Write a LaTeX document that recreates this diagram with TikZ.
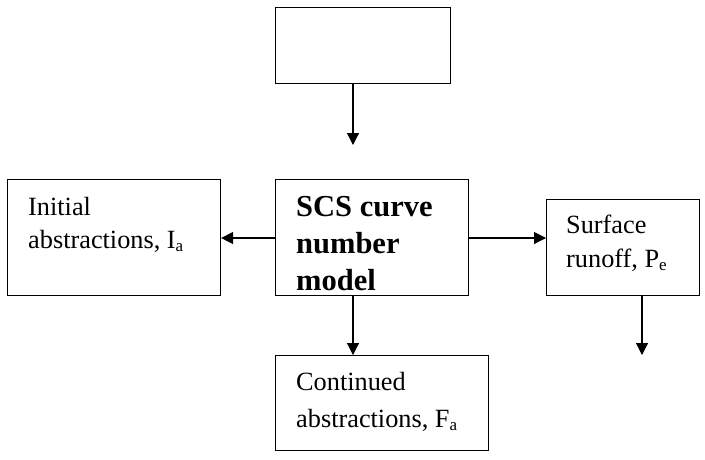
\documentclass[tikz,border=0pt]{standalone}
\usepackage{fontspec}
\setmainfont{Liberation Serif}
\usetikzlibrary{arrows.meta}
\newcommand\subtxt[1]{\raisebox{-3pt}{\fontsize{17}{17}\selectfont #1}}
\begin{document}
\begin{tikzpicture}[x=1pt,y=-1pt,
  box/.style={draw,line width=1.1pt,rectangle,inner sep=0pt,anchor=north west},
  txt/.style={anchor=base west,inner sep=0pt,font=\fontsize{26.3}{30}\selectfont},
  btxt/.style={anchor=base west,inner sep=0pt,font=\fontsize{30.5}{34}\selectfont\bfseries},
  arr/.style={line width=1.1pt,-{Triangle[length=12pt,width=12pt]}}]
\useasboundingbox (0,0) rectangle (705,459);
% boxes
\node[box,minimum width=175pt,minimum height=76pt] (top) at (275,7) {};
\node[box,minimum width=193pt,minimum height=116pt] (center) at (275,179) {};
\node[box,minimum width=213pt,minimum height=116pt] (left) at (7,179) {};
\node[box,minimum width=153pt,minimum height=96pt] (right) at (546,199) {};
\node[box,minimum width=213pt,minimum height=95pt] (bottom) at (275,355) {};
% texts
\node[txt] (l1) at (28,215) {Initial};
\node[txt] (l2) at (28,248) {abstractions, I\subtxt{a}};
\node[btxt] (c1) at (296,216) {SCS curve};
\node[btxt] (c2) at (296,253) {number};
\node[btxt] (c3) at (296,290) {model};
\node[txt] (r1) at (566,233) {Surface};
\node[txt] (r2) at (566,267) {runoff, P\subtxt{e}};
\node[txt] (b1) at (296,390) {Continued};
\node[txt] (b2) at (296,427) {abstractions, F\subtxt{a}};
% connectors
\coordinate (tx) at (353,145);
\coordinate (ro) at (642,355);
\draw[arr] (top.south -| tx) -- (tx);
\draw[arr] (center.west |- 0,238) -- (left.east |- 0,238);
\draw[arr] (center.east |- 0,238) -- (right.west |- 0,238);
\draw[arr] (center.south -| tx) -- (bottom.north -| tx);
\draw[arr] (right.south -| ro) -- (ro);
\end{tikzpicture}
\end{document}
